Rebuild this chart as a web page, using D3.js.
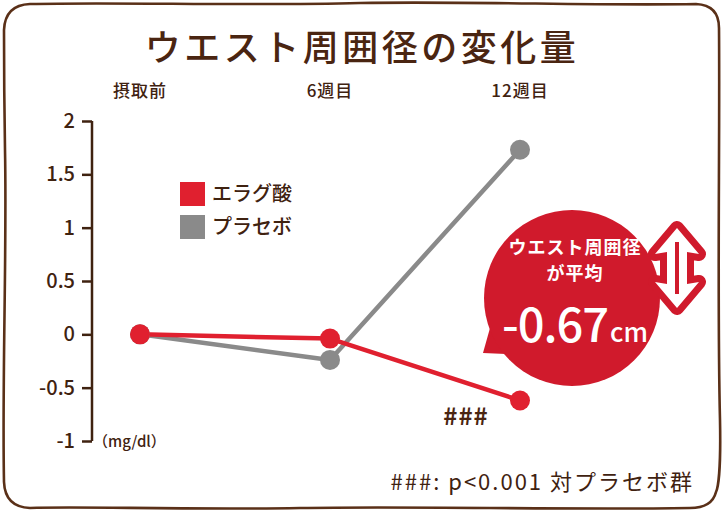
<!DOCTYPE html>
<html><head><meta charset="utf-8">
<script src="https://cdn.jsdelivr.net/npm/d3@7"></script>
<style>
html,body{margin:0;padding:0;background:#fff;}
svg{display:block;}
text{font-family:"Noto Sans CJK JP","Noto Sans",sans-serif;}
</style></head>
<body>
<script>
const categories = ["摂取前", "6週目", "12週目"];
const ellagicAcid = [0, -0.04, -0.62];
const placebo = [0, -0.24, 1.73];
const yTicks = [2, 1.5, 1, 0.5, 0, -0.5, -1];
const yTickLabels = ["2", "1.5", "1", "0.5", "0", "-0.5", "-1"];
const seriesNames = ["エラグ酸", "プラセボ"];
const seriesColors = ["#e0202f", "#8a8a8a"];

const W = 724, H = 514;
const brown = "#3f2210";
const svg = d3.select("body").append("svg").attr("width", W).attr("height", H);

// hand-drawn frame
const frame = "M30,4 C120,2 250,6 360,3 C470,1 600,6 696,4 Q719,5 719,28 C720,140 717,300 720,420 C721,470 718,488 716,492 Q712,508 690,508 C560,510 420,506 300,508 C180,510 80,506 30,508 Q5,507 4,482 C2,380 7,250 5,150 C4,90 4,60 4,30 Q5,5 30,4 Z";
svg.append("path").attr("d", frame).attr("fill", "#fff").attr("stroke", "#5a3018").attr("stroke-width", 2.6);

// title
svg.append("text").attr("x", 362).attr("y", 61).attr("text-anchor", "middle")
  .attr("font-size", 36).attr("font-weight", 500).attr("letter-spacing", 3.5)
  .attr("fill", "#4a2511").text("ウエスト周囲径の変化量");

const x = d3.scalePoint().domain(categories).range([140, 520]);
const y = d3.scaleLinear().domain([-1, 2]).range([441, 121]);

// column labels
svg.selectAll(".cat").data(categories).join("text")
  .attr("x", d => x(d)).attr("y", 97).attr("text-anchor", "middle")
  .attr("font-size", 17).attr("font-weight", 500).attr("letter-spacing", 1).attr("fill", brown).text(d => d);

// y axis
const axisX = 92;
const yAxis = d3.axisLeft(y).tickValues(yTicks).tickSize(10).tickSizeOuter(0)
  .tickFormat((d, i) => yTickLabels[i]);
const ag = svg.append("g").attr("transform", `translate(${axisX},0)`).call(yAxis);
ag.select(".domain").attr("stroke", brown).attr("stroke-width", 2.5).attr("d", `M0,${y(2)}V${y(-1)}`);
ag.selectAll(".tick line").attr("stroke", brown).attr("stroke-width", 2.5);
ag.selectAll(".tick text").attr("fill", brown).attr("font-size", 20).attr("font-weight", 500)
  .attr("x", -17).attr("font-family", '"Noto Sans","Noto Sans CJK JP",sans-serif');

svg.append("text").attr("x", 99).attr("y", y(-1) + 6).attr("font-size", 15).attr("font-weight", 500)
  .attr("fill", brown).text("（mg/dl）").attr("dx", -6);

// lines
const line = d3.line().x((d, i) => x(categories[i])).y(d => y(d));
const series = [placebo, ellagicAcid];
const cols = [seriesColors[1], seriesColors[0]];
series.forEach((s, k) => {
  svg.append("path").datum(s).attr("d", line).attr("fill", "none")
    .attr("stroke", cols[k]).attr("stroke-width", 4.5).attr("stroke-linejoin", "round");
});
series.forEach((s, k) => {
  svg.selectAll(null).data(s).join("circle")
    .attr("cx", (d, i) => x(categories[i])).attr("cy", d => y(d)).attr("r", 10)
    .attr("fill", cols[k]);
});

// legend
seriesNames.forEach((n, i) => {
  svg.append("rect").attr("x", 180).attr("y", 182 + i * 33).attr("width", 25).attr("height", 24)
    .attr("fill", seriesColors[i]);
  svg.append("text").attr("x", 212).attr("y", 201 + i * 33).attr("font-size", 20).attr("font-weight", 500)
    .attr("fill", brown).text(n);
});

// ### marker
svg.append("text").attr("x", 466).attr("y", 425).attr("text-anchor", "middle")
  .attr("font-size", 24).attr("font-weight", 700).attr("fill", "#4a2511").attr("letter-spacing", 1).text("###");

// footnote
svg.append("text").attr("x", 694).attr("y", 490).attr("text-anchor", "end")
  .attr("font-size", 22).attr("font-weight", 400).attr("letter-spacing", 2).attr("fill", brown).text("###: p<0.001 対プラセボ群");

// callout bubble
const bx = 572, by = 298, br = 88;
const bub = svg.append("g");
bub.append("path").attr("d", `M${bx - 82},${by + 30} L483,353 L${bx - 66},${by + 56} Z`).attr("fill", "#d01a2c");
bub.append("circle").attr("cx", bx).attr("cy", by).attr("r", br).attr("fill", "#d01a2c");
const capStyle = t => t.attr("text-anchor", "middle").attr("font-size", 18).attr("font-weight", 700)
  .attr("letter-spacing", 1).attr("fill", "#fff");
bub.append("text").call(capStyle).attr("x", bx + 3).attr("y", 254).text("ウエスト周囲径");
bub.append("text").call(capStyle).attr("x", bx + 3).attr("y", 280).text("が平均");
const big = bub.append("text").attr("x", bx + 3).attr("y", 342).attr("text-anchor", "middle")
  .attr("fill", "#fff").attr("font-weight", 500).attr("font-family", '"Noto Sans",sans-serif');
big.append("tspan").attr("font-size", 47).attr("letter-spacing", -1).text("-0.67");
big.append("tspan").attr("font-size", 26).attr("dx", 2).text("cm");

// double arrow
const ax = 677, at = 228, ab = 308;
const arrowPath = `M${ax},${at} L${ax + 22},${at + 26} L${ax + 10},${at + 24} L${ax + 10},${ab - 24} L${ax + 22},${ab - 26} L${ax},${ab} L${ax - 22},${ab - 26} L${ax - 10},${ab - 24} L${ax - 10},${at + 24} L${ax - 22},${at + 26} Z`;
svg.append("path").attr("d", arrowPath).attr("fill", "#d01a2c").attr("stroke", "#d01a2c")
  .attr("stroke-width", 14).attr("stroke-linejoin", "round");
svg.append("path").attr("d", arrowPath).attr("fill", "#fff");
svg.append("line").attr("x1", ax).attr("x2", ax).attr("y1", at + 14).attr("y2", ab - 14)
  .attr("stroke", "#d01a2c").attr("stroke-width", 4);
</script>
</body></html>
